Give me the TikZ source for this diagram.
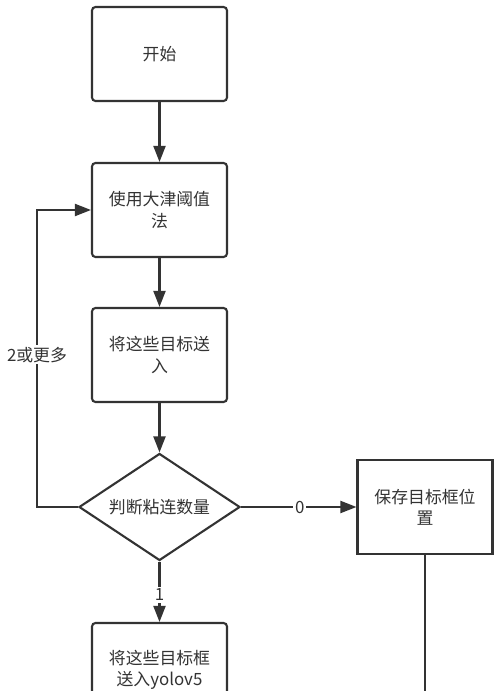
\documentclass[tikz,border=0pt]{standalone}
\usepackage{fontspec}
\setmainfont{Noto Sans CJK SC}
\usepackage{xcolor}
\usetikzlibrary{shapes.geometric,arrows.meta}
\definecolor{FCLine}{HTML}{333333}
\definecolor{FCText}{HTML}{333333}

\begin{document}
\begin{tikzpicture}[x=1cm,y=1cm,
  stepbox/.style={draw=FCLine,line width=1.2pt,fill=white,minimum width=2.7cm,minimum height=1.88cm,align=center,text=FCText,font=\fontsize{9.6}{12.2}\selectfont},
  roundbox/.style={stepbox,rounded corners=0.07cm},
  judgebox/.style={stepbox,diamond,shape aspect=1.5,minimum width=3.22cm,minimum height=2.14cm,inner sep=0pt},
  flow/.style={draw=FCLine,line width=1.2pt,-{Triangle[length=0.32cm,width=0.24cm]}},
  plainflow/.style={draw=FCLine,line width=1.2pt},
  edgelabel/.style={fill=white,inner sep=1pt,text=FCText,font=\fontsize{9.6}{12}\selectfont}]
\path[use as bounding box] (0,0) rectangle (10,13.82);
\clip (0,0) rectangle (10,13.82);
\node[roundbox] (start) at (3.19,12.74) {开始};
\node[roundbox] (otsu) at (3.19,9.62) {使用大津阈值\\法};
\node[roundbox] (feed) at (3.19,6.72) {将这些目标送\\入};
\node[judgebox] (judge) at (3.19,3.68) {判断粘连数量};
\node[roundbox] (yolo) at (3.19,0.42) {将这些目标框\\送入yolov5};
\node[stepbox] (save) at (8.50,3.68) {保存目标框位\\置};
\coordinate (loop) at (0.74,3.68);
\coordinate (saveout) at (8.50,-0.20);
\draw[flow] (start) -- (otsu);
\draw[flow] (otsu) -- (feed);
\draw[flow] (feed) -- (judge);
\draw[flow] (judge.west) -- (loop) |- node[edgelabel,pos=0.256] {2或更多} (otsu.west);
\draw[flow] (judge.east) -- node[edgelabel,pos=0.51] {0} (save.west);
\draw[flow] (judge.south) -- node[edgelabel,pos=0.55] {1} (yolo.north);
\draw[plainflow] (save.south) -- (saveout);
\end{tikzpicture}
\end{document}
